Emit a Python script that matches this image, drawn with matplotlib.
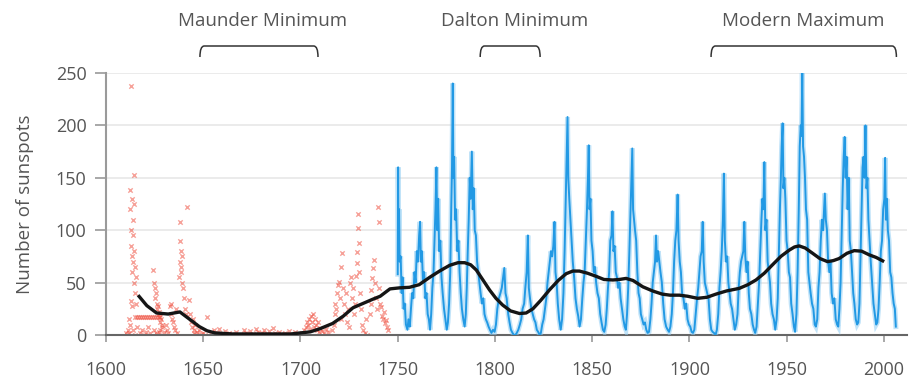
import matplotlib
matplotlib.use("Agg")
import matplotlib.pyplot as plt
from matplotlib.path import Path
from matplotlib.patches import PathPatch
import matplotlib.transforms as mtransforms

# --- données ---
# observations anciennes (points rouges)
red_years = [1610.5, 1611, 1611.5, 1612, 1612.3, 1612.5, 1612.7, 1612.9, 1613.1, 1613.2, 1613.4, 1613.5,
             1613.7, 1613.8, 1614, 1614.2, 1614.3, 1614.5, 1614.6, 1614.8, 1615, 1615.2, 1615.4, 1612.8,
             1613.5, 1611.8, 1612.5, 1614, 1615, 1616,
             1615, 1616, 1617, 1618, 1619, 1620, 1621, 1622, 1623, 1624, 1625, 1626, 1627, 1628,
             1617.5, 1618.5, 1619.5, 1620.5, 1621.5, 1622.5,
             1624.2, 1624.5, 1625, 1625.3, 1625.8, 1626, 1626.4, 1626.8, 1627.2, 1627.5, 1627.8, 1628.2,
             1628.6, 1629, 1624.8, 1625.5, 1626.2, 1627, 1628,
             1630, 1630.8, 1631.5, 1632, 1632.7, 1633.2, 1633.5, 1634, 1634.5, 1635, 1635.5, 1636, 1636.4,
             1637.5, 1637.8, 1638, 1638.2, 1638.4, 1638.6, 1638.8, 1639, 1639.3, 1639.6, 1640, 1641.4,
             1640.5, 1641,
             1642.7, 1643, 1643.5, 1644, 1644.5, 1645, 1645.5, 1646, 1646.5, 1647, 1648, 1649, 1650, 1651, 1652,
             1654, 1655.5, 1657, 1658, 1660, 1661, 1663, 1665, 1667, 1669, 1671, 1672, 1674, 1675.5, 1677,
             1678, 1680, 1681, 1683, 1684, 1686, 1687, 1689, 1690, 1692, 1694, 1695, 1697, 1699,
             1701, 1702, 1703, 1703.5, 1704, 1704.5, 1705, 1705.5, 1706, 1706.5, 1707, 1707.5, 1708, 1708.5,
             1709, 1709.5, 1710, 1711, 1712, 1713, 1714,
             1716, 1717, 1717.5, 1718, 1718.5, 1719, 1719.5, 1720, 1720.3, 1720.6, 1721, 1721.5, 1722, 1722.5,
             1723, 1723.5, 1724, 1724.5, 1725,
             1725.5, 1726, 1726.5, 1727, 1727.5, 1728, 1728.5, 1729, 1729.3, 1729.6, 1729.8, 1730, 1730.3,
             1730.6, 1731, 1731.5, 1732, 1733, 1734, 1733.5,
             1735.6, 1736, 1736.5, 1737, 1737.5, 1738, 1738.5, 1739, 1739.5, 1739.9, 1740.2, 1740.5, 1741,
             1741.6, 1742, 1742.5, 1743, 1743.5, 1744, 1744.5, 1745]
red_values = [2, 0, 5, 2, 138, 120, 100, 85, 238, 75, 130, 60,
              110, 95, 70, 50, 153, 80, 125, 40, 65, 30, 55, 32,
              28, 15, 10, 5, 0, 8,
              17, 17, 17, 17, 17, 17, 17, 17, 17, 17, 17, 17, 17, 17,
              2, 5, 0, 3, 8, 2,
              62, 50, 45, 35, 40, 30, 25, 28, 22, 20, 12, 15,
              10, 8, 5, 2, 0, 3, 5,
              3, 10, 5, 2, 28, 30, 20, 15, 12, 8, 5, 25, 2,
              55, 70, 108, 90, 80, 65, 60, 75, 50, 45, 35, 122,
              25, 20,
              33, 20, 12, 8, 15, 5, 2, 10, 0, 3, 5, 1, 2, 0, 17,
              3, 5, 2, 6, 0, 4, 2, 1, 3, 0, 5, 2, 4, 1, 6,
              3, 2, 5, 1, 4, 7, 2, 3, 1, 2, 4, 0, 3, 1,
              2, 5, 8, 12, 10, 15, 6, 18, 12, 20, 8, 15, 10, 5,
              12, 3, 7, 4, 2, 6, 3,
              5, 10, 20, 30, 25, 40, 48, 51, 35, 15, 65, 78, 45, 30,
              20, 40, 12, 25, 8,
              50, 55, 35, 45, 20, 30, 56, 69, 79, 115, 102, 88, 60,
              40, 25, 10, 5, 2, 0, 15,
              20, 30, 43, 54, 64, 72, 50, 35, 25, 122, 108, 45, 30,
              27, 18, 15, 22, 11, 14, 8, 5]

# relevés mensuels (courbe bleue)
blue_years = [1750.0, 1750.2, 1750.4, 1750.7, 1751.0, 1751.5, 1752.0, 1752.5, 1753.0, 1753.6, 1754.2, 1755.0,
              1755.5, 1756.2, 1756.8, 1757.4, 1758.0, 1758.6, 1759.2, 1759.8, 1760.4, 1761.0, 1761.5, 1761.9,
              1762.4, 1763.0, 1763.6, 1764.2, 1764.8, 1765.4, 1766.0, 1766.6, 1767.2, 1767.8, 1768.4, 1768.9,
              1769.4, 1769.9, 1770.3, 1770.8, 1771.3, 1771.9, 1772.5, 1773.1, 1773.8, 1774.5, 1775.2, 1775.8,
              1776.4, 1777.0, 1777.5, 1777.9, 1778.3, 1778.6, 1779.0, 1779.5, 1780.0, 1780.6, 1781.2, 1781.8,
              1782.4, 1783.0, 1783.7, 1784.4, 1785.0, 1785.5, 1786.0, 1786.5, 1787.0, 1787.5, 1788.1, 1788.6,
              1789.1, 1789.6, 1790.2, 1790.8, 1791.4, 1792.0, 1792.6, 1793.3, 1794.0, 1794.6, 1795.3, 1796.0,
              1796.7, 1797.4, 1798.2, 1799.0, 1799.8, 1800.5, 1801.2, 1802.0, 1802.8, 1803.5, 1804.2, 1804.8,
              1805.4, 1806.0, 1806.8, 1807.5, 1808.2, 1809.0, 1809.8, 1810.5, 1811.2, 1812.0, 1812.8, 1813.5,
              1814.2, 1815.0, 1815.6, 1816.3, 1816.9, 1817.4, 1818.0, 1818.7, 1819.4, 1820.1, 1820.8, 1821.5,
              1822.2, 1823.0, 1823.6, 1824.3, 1825.0, 1825.7, 1826.4, 1827.0, 1827.6, 1828.2, 1828.8, 1829.4,
              1830.0, 1830.6, 1831.1, 1831.7, 1832.3, 1833.0, 1833.8, 1834.5, 1835.2, 1835.8, 1836.4, 1836.9,
              1837.3, 1837.7, 1838.2, 1838.8, 1839.4, 1840.0, 1840.7, 1841.4, 1842.1, 1842.8, 1843.5, 1844.2,
              1844.9, 1845.5, 1846.1, 1846.7, 1847.3, 1847.8, 1848.2, 1848.6, 1849.1, 1849.6, 1850.2, 1850.8,
              1851.4, 1852.0, 1852.7, 1853.4, 1854.1, 1854.8, 1855.5, 1856.2, 1856.9, 1857.5, 1858.1, 1858.7,
              1859.3, 1859.9, 1860.4, 1860.9, 1861.5, 1862.1, 1862.7, 1863.3, 1864.0, 1864.6, 1865.3, 1866.0,
              1866.7, 1867.3, 1867.9, 1868.5, 1869.1, 1869.7, 1870.2, 1870.6, 1871.0, 1871.5, 1872.0, 1872.6,
              1873.2, 1873.8, 1874.4, 1875.0, 1875.7, 1876.4, 1877.1, 1877.8, 1878.5, 1879.2, 1879.9, 1880.5,
              1881.1, 1881.7, 1882.3, 1882.8, 1883.3, 1883.9, 1884.5, 1885.1, 1885.8, 1886.5, 1887.2, 1888.0,
              1888.8, 1889.5, 1890.2, 1890.9, 1891.5, 1892.1, 1892.7, 1893.3, 1893.9, 1894.4, 1895.0, 1895.6,
              1896.2, 1896.9, 1897.6, 1898.3, 1899.0, 1899.7, 1900.4, 1901.1, 1901.8, 1902.5, 1903.2, 1903.9,
              1904.5, 1905.1, 1905.7, 1906.3, 1906.8, 1907.3, 1907.9, 1908.5, 1909.1, 1909.8, 1910.5, 1911.2,
              1911.9, 1912.6, 1913.4, 1914.1, 1914.8, 1915.4, 1916.0, 1916.6, 1917.2, 1917.7, 1918.2, 1918.8,
              1919.4, 1920.0, 1920.6, 1921.2, 1921.9, 1922.6, 1923.3, 1924.0, 1924.7, 1925.3, 1925.9, 1926.5,
              1927.1, 1927.7, 1928.2, 1928.7, 1929.3, 1929.9, 1930.5, 1931.1, 1931.8, 1932.5, 1933.2, 1933.8,
              1934.5, 1935.2, 1935.8, 1936.4, 1937.0, 1937.5, 1938.0, 1938.5, 1939.0, 1939.6, 1940.2, 1940.8,
              1941.4, 1942.0, 1942.7, 1943.4, 1944.1, 1944.8, 1945.4, 1946.0, 1946.5, 1947.0, 1947.4, 1947.9,
              1948.3, 1948.8, 1949.3, 1949.9, 1950.5, 1951.1, 1951.7, 1952.3, 1953.0, 1953.7, 1954.3, 1955.0,
              1955.6, 1956.2, 1956.7, 1957.2, 1957.6, 1958.0, 1958.4, 1958.9, 1959.4, 1959.9, 1960.5, 1961.1,
              1961.7, 1962.3, 1963.0, 1963.7, 1964.4, 1965.0, 1965.7, 1966.3, 1966.9, 1967.5, 1968.1, 1968.7,
              1969.2, 1969.6, 1970.1, 1970.7, 1971.3, 1971.9, 1972.5, 1973.1, 1973.8, 1974.5, 1975.2, 1975.9,
              1976.5, 1977.1, 1977.7, 1978.3, 1978.8, 1979.3, 1979.8, 1980.3, 1980.8, 1981.3, 1981.9, 1982.4,
              1983.0, 1983.6, 1984.2, 1984.8, 1985.5, 1986.2, 1986.8, 1987.4, 1988.0, 1988.5, 1989.0, 1989.5,
              1990.0, 1990.5, 1991.0, 1991.5, 1992.0, 1992.6, 1993.2, 1993.9, 1994.6, 1995.3, 1996.0, 1996.6,
              1997.2, 1997.8, 1998.4, 1999.0, 1999.6, 2000.2, 2000.6, 2001.0, 2001.5, 2002.0, 2002.6, 2003.2,
              2003.8, 2004.4, 2005.0, 2005.6, 2006.1]
blue_values = [58, 160, 90, 120, 70, 75, 40, 55, 25, 30, 10, 5,
               15, 8, 25, 40, 35, 60, 50, 80, 70, 95, 108, 70,
               80, 50, 60, 35, 40, 20, 15, 5, 20, 45, 60, 90,
               120, 160, 100, 130, 80, 90, 55, 40, 25, 15, 5, 12,
               30, 60, 120, 160, 240, 150, 170, 110, 120, 80, 90, 60,
               40, 25, 15, 8, 20, 45, 80, 110, 150, 130, 175, 120,
               140, 100, 95, 70, 60, 50, 40, 30, 35, 20, 15, 12,
               8, 5, 2, 5, 3, 10, 25, 35, 40, 45, 55, 64,
               40, 35, 20, 12, 5, 2, 0, 0, 2, 5, 10, 15,
               25, 30, 45, 60, 95, 45, 35, 25, 20, 15, 12, 5,
               3, 0, 2, 10, 15, 25, 35, 50, 60, 70, 80, 75,
               85, 108, 60, 50, 30, 15, 5, 15, 40, 80, 130, 170,
               208, 150, 130, 110, 90, 70, 55, 35, 25, 18, 8, 15,
               35, 50, 60, 90, 120, 150, 181, 120, 130, 90, 80, 60,
               65, 50, 40, 35, 20, 12, 5, 3, 10, 25, 45, 60,
               90, 95, 118, 80, 85, 60, 55, 45, 50, 35, 25, 15,
               8, 5, 20, 45, 80, 120, 150, 178, 120, 110, 100, 90,
               60, 40, 35, 20, 15, 10, 12, 5, 2, 3, 15, 30,
               50, 60, 70, 95, 70, 80, 70, 60, 50, 30, 15, 8,
               5, 3, 8, 20, 40, 70, 90, 100, 134, 90, 70, 60,
               40, 35, 25, 30, 15, 10, 8, 3, 2, 5, 20, 35,
               45, 60, 75, 80, 108, 70, 50, 45, 40, 35, 15, 5,
               3, 2, 0, 5, 20, 45, 60, 80, 110, 154, 90, 70,
               75, 50, 40, 30, 25, 15, 5, 10, 20, 45, 60, 70,
               75, 80, 108, 75, 60, 70, 40, 25, 20, 10, 5, 2,
               8, 30, 50, 80, 110, 130, 120, 165, 100, 110, 70, 60,
               50, 30, 20, 15, 5, 15, 35, 80, 120, 150, 180, 202,
               140, 150, 130, 90, 80, 60, 55, 30, 20, 8, 3, 20,
               60, 120, 180, 200, 190, 251, 180, 170, 150, 120, 110, 60,
               50, 40, 30, 25, 10, 8, 15, 45, 60, 90, 110, 100,
               120, 135, 110, 100, 70, 60, 70, 40, 30, 35, 15, 10,
               8, 25, 50, 100, 140, 170, 189, 150, 170, 120, 150, 90,
               80, 60, 40, 30, 15, 10, 12, 30, 80, 120, 160, 170,
               150, 200, 140, 150, 110, 90, 70, 50, 30, 20, 10, 12,
               25, 50, 80, 90, 120, 130, 169, 110, 130, 100, 90, 60,
               55, 40, 30, 25, 8]

# moyenne lissée (courbe noire)
smooth_years = [1616.5, 1621, 1626, 1632, 1638, 1643, 1648, 1652, 1656, 1665, 1680, 1695, 1700,
                1705, 1710, 1716.5, 1722, 1727, 1732, 1737, 1741, 1746, 1751, 1756, 1761, 1766.4,
                1771.5, 1776.7, 1781, 1784.4, 1787.5, 1790.4, 1794, 1797.2, 1800.5, 1804, 1808,
                1812.6, 1816, 1819.5, 1823.5, 1828, 1832.5, 1836.6, 1840, 1843.4, 1847.5, 1852,
                1856, 1860.6, 1864, 1867.4, 1871, 1876, 1881.1, 1886, 1890, 1894.8, 1899, 1904.2,
                1909, 1913.6, 1919, 1925.6, 1930, 1934.2, 1938.5, 1942.7, 1947, 1951.3, 1954,
                1956.4, 1959.5, 1963.3, 1967, 1971, 1974, 1977, 1981, 1984.7, 1988.5, 1992.4,
                1996, 2000.1]
smooth_values = [38, 28, 21, 20, 22, 15, 8, 4, 2, 1, 1, 1, 2,
                 3, 6, 11, 18, 26, 30, 34, 37, 44, 45, 45.5, 48, 55,
                 61, 66.5, 69, 69, 67, 62, 52, 43, 35, 28.5, 23,
                 20.5, 21, 25, 33, 43, 52, 58.5, 61, 61, 59, 56,
                 53, 52.5, 53, 54, 52, 46, 42, 39, 38, 38, 37, 35,
                 36, 39, 42, 44.5, 48, 52.5, 59, 67, 75, 81, 84,
                 85, 83, 78, 73, 70, 71, 73, 78, 80.5, 80, 76.5,
                 74, 70]

# périodes annotées
periods = ["Maunder Minimum", "Dalton Minimum", "Modern Maximum"]
period_start = [1648.3, 1792.4, 1911.1]
period_end = [1709.0, 1823.2, 2006.4]
period_label_x = [1680.6, 1810.3, 1958.4]

plt.rcParams['font.family'] = ['Open Sans', 'DejaVu Sans']
text_color = '#555555'

fig = plt.figure(figsize=(9.1, 3.83), dpi=100)
ax = fig.add_axes([106 / 910, 48 / 383, 801.3 / 910, 262 / 383])

ax.scatter(red_years, red_values, marker='x', s=10, linewidths=1.0,
           color='#ee4433', alpha=0.5, zorder=2)
ax.plot(blue_years, blue_values, color='#8fcdf4', lw=3.6, alpha=0.55, zorder=3,
        solid_joinstyle='miter')
ax.plot(blue_years, blue_values, color='#2299e4', lw=1.4, zorder=4)
ax.plot(smooth_years, smooth_values, color='#151515', lw=2.4, zorder=5,
        solid_capstyle='butt')

ax.set_xlim(1600, 2012)
ax.set_ylim(0, 250)
ax.set_xticks(range(1600, 2001, 50))
ax.set_yticks(range(0, 251, 50))
ax.grid(axis='y', color='#e8e8e8', lw=1.2, zorder=0)
ax.set_axisbelow(True)

for s in ['top', 'right']:
    ax.spines[s].set_visible(False)
ax.spines['left'].set_color('#9a9a9a')
ax.spines['left'].set_linewidth(1.5)
ax.spines['bottom'].set_color('#666666')
ax.spines['bottom'].set_linewidth(1.5)
ax.tick_params(axis='y', length=8, width=1.2, color='#9a9a9a', pad=6,
               labelsize=13, labelcolor=text_color)
ax.tick_params(axis='x', length=5, width=1.2, color='#9a9a9a', pad=14,
               labelsize=13, labelcolor=text_color)
ax.set_ylabel("Number of sunspots", fontsize=13.5, color=text_color, labelpad=16)

# accolades au-dessus des périodes
trans = mtransforms.blended_transform_factory(ax.transData, fig.transFigure)
y_top, y_bot = 1 - 46 / 383, 1 - 57 / 383
r = 2.2
for name, x0, x1, xl in zip(periods, period_start, period_end, period_label_x):
    verts = [(x0, y_bot), (x0, y_top), (x0 + r, y_top), (x1 - r, y_top), (x1, y_top), (x1, y_bot)]
    codes = [Path.MOVETO, Path.CURVE3, Path.CURVE3, Path.LINETO, Path.CURVE3, Path.CURVE3]
    ax.add_patch(PathPatch(Path(verts, codes), transform=trans, fill=False,
                           edgecolor='#333333', lw=1.1, clip_on=False))
    fig.text(xl, 1 - 21 / 383, name, transform=trans, ha='center', va='center',
             fontsize=13.5, color=text_color)

fig.savefig("out.png", dpi=100)
